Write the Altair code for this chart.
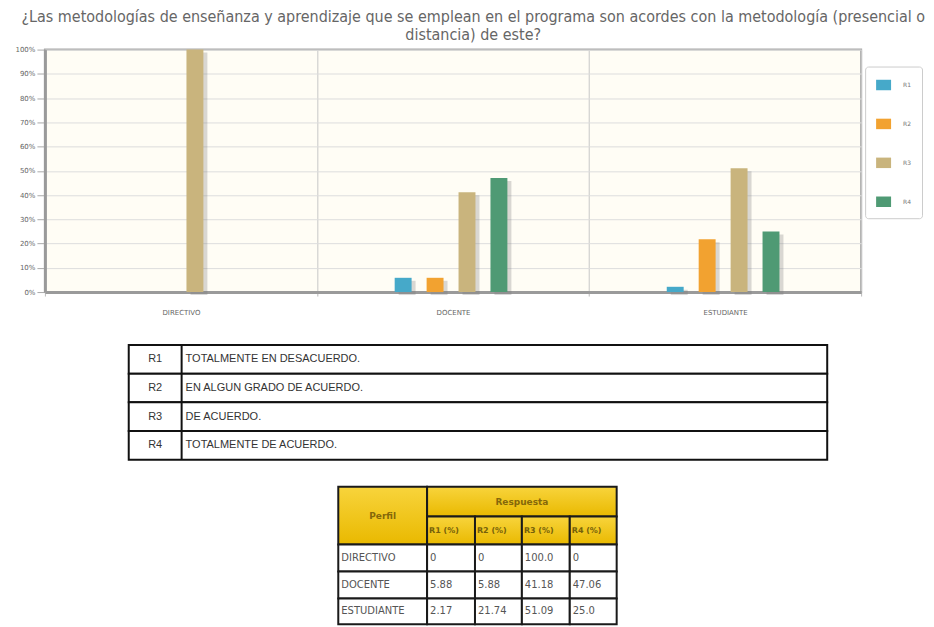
import altair as alt
import pandas as pd

# ---------------- data ----------------
title_lines = [
    "¿Las metodologías de enseñanza y aprendizaje que se emplean en el programa son acordes con la metodología (presencial o",
    "distancia) de este?",
]
profiles = ["DIRECTIVO", "DOCENTE", "ESTUDIANTE"]
responses = ["R1", "R2", "R3", "R4"]
r1_pct = [0, 5.88, 2.17]
r2_pct = [0, 5.88, 21.74]
r3_pct = [100.0, 41.18, 51.09]
r4_pct = [0, 47.06, 25.0]
response_labels = [
    "TOTALMENTE EN DESACUERDO.",
    "EN ALGUN GRADO DE ACUERDO.",
    "DE ACUERDO.",
    "TOTALMENTE DE ACUERDO.",
]
header_perfil = "Perfil"
header_respuesta = "Respuesta"
header_cols = ["R1 (%)", "R2 (%)", "R3 (%)", "R4 (%)"]
y_ticks = [0, 0.1, 0.2, 0.3, 0.4, 0.5, 0.6, 0.7, 0.8, 0.9, 1.0]

# ---------------- styles / layout ----------------
colors = ["#46a9c9", "#f2a230", "#c9b47d", "#4f9a74"]
TITLE_FONT = "DejaVu Sans Condensed, Liberation Sans Narrow, DejaVu Sans"
SMALL_FONT = "DejaVu Sans"
TABLE_FONT = "Liberation Sans"

PLOT_W, PLOT_H = 818, 243
BAND = PLOT_W / len(profiles)
BAR_STEP = 32
INNER_PAD = 0.47
GROUP_SPAN = BAR_STEP * (len(responses) - INNER_PAD)
OFF_LO = BAND / 2 - GROUP_SPAN / 2 - 2
OFF_HI = OFF_LO + GROUP_SPAN
SHADOW_DX = 4

series = [r1_pct, r2_pct, r3_pct, r4_pct]
bar_rows = []
for i, p in enumerate(profiles):
    for j, r in enumerate(responses):
        bar_rows.append({"perfil": p, "resp": r, "val": series[j][i] / 100.0})
bars_df = pd.DataFrame(bar_rows)

x_enc = alt.X(
    "perfil:N", sort=profiles,
    scale=alt.Scale(paddingInner=0, paddingOuter=0),
    axis=alt.Axis(title=None, labelAngle=0, labelFontSize=7, labelColor="#666",
                  labelFont=SMALL_FONT, tickBand="extent", grid=True,
                  gridColor="#c8c8c8", gridWidth=1, domainColor="#9a9a9a",
                  domainWidth=3, tickColor="#bbbbbb", tickSize=4, labelPadding=12),
)
y_enc = alt.Y(
    "val:Q", scale=alt.Scale(domain=[0, 1], nice=False),
    axis=alt.Axis(values=y_ticks, format=".0%", title=None, labelFontSize=7,
                  labelColor="#666", labelFont=SMALL_FONT, tickSize=8,
                  tickColor="#aaaaaa", domainColor="#9a9a9a", domainWidth=3,
                  gridColor="#dddddd", minExtent=36, maxExtent=36, labelPadding=2),
)

shadow = alt.Chart(bars_df).mark_bar(
    color="#777777", opacity=0.28, yOffset=3, y2Offset=0
).encode(
    x=x_enc,
    xOffset=alt.XOffset("resp:N", sort=responses,
                        scale=alt.Scale(paddingInner=INNER_PAD, paddingOuter=0,
                                        range=[OFF_LO + SHADOW_DX, OFF_HI + SHADOW_DX])),
    y=y_enc,
)

bars = alt.Chart(bars_df).mark_bar().encode(
    x=x_enc,
    xOffset=alt.XOffset("resp:N", sort=responses,
                        scale=alt.Scale(paddingInner=INNER_PAD, paddingOuter=0,
                                        range=[OFF_LO, OFF_HI])),
    y=y_enc,
    color=alt.Color(
        "resp:N", sort=responses,
        scale=alt.Scale(domain=responses, range=colors),
        legend=alt.Legend(title=None, orient="none", legendX=822, legendY=17,
                          symbolType="M-1,-0.7H1V0.7H-1Z", symbolSize=225,
                          symbolStrokeWidth=0, labelFontSize=6, labelColor="#777",
                          labelFont=SMALL_FONT, labelOffset=12, rowPadding=26,
                          padding=11, strokeColor="#cccccc", cornerRadius=3,
                          fillColor="white"),
    ),
)

bar_chart = alt.layer(shadow, bars).resolve_scale(xOffset="independent").properties(
    width=PLOT_W, height=PLOT_H,
    view=alt.ViewBackground(fill="#fffdf5", stroke="#a8a8a8", strokeWidth=2),
)

# ---------------- definitions table ----------------
DEF_X0, DEF_X1, DEF_SPLIT = 84, 784, 137
DEF_H = 115
def_df = pd.DataFrame({"code": responses, "label": response_labels})
def_df["x0"] = DEF_X0
def_df["x1"] = DEF_X1
def_df["xc"] = (DEF_X0 + DEF_SPLIT) / 2
def_df["xl"] = DEF_SPLIT
xs_def = alt.Scale(domain=[0, PLOT_W], nice=False, zero=False)
y_def = alt.Y("code:N", sort=responses,
              scale=alt.Scale(paddingInner=0, paddingOuter=0), axis=None)

def_rect = alt.Chart(def_df).mark_rect(fill="white", stroke="#111111", strokeWidth=2).encode(
    y=y_def, x=alt.X("x0:Q", scale=xs_def, axis=None), x2="x1:Q")
def_rule = alt.Chart(pd.DataFrame({"s": [DEF_SPLIT]})).mark_rule(
    stroke="#111111", strokeWidth=2).encode(x=alt.X("s:Q", scale=xs_def, axis=None))
def_code = alt.Chart(def_df).mark_text(font=TABLE_FONT, fontSize=11, color="#333").encode(
    y=y_def, x=alt.X("xc:Q", scale=xs_def, axis=None), text="code:N")
def_text = alt.Chart(def_df).mark_text(font=TABLE_FONT, fontSize=11, color="#333",
                                       align="left", dx=4).encode(
    y=y_def, x=alt.X("xl:Q", scale=xs_def, axis=None), text="label:N")

def_chart = alt.layer(def_rect, def_rule, def_code, def_text).properties(
    width=PLOT_W, height=DEF_H, view=alt.ViewBackground(stroke="transparent"))

# ---------------- data table ----------------
TAB_X0 = 294
col_w = [89, 48, 47, 48, 47]
row_h = [30, 28, 27, 27, 26]
cx = [TAB_X0]
for w in col_w:
    cx.append(cx[-1] + w)
ry = [0]
for h in row_h:
    ry.append(ry[-1] + h)
TH = ry[-1]

head_cells = [
    {"x0": cx[0], "x1": cx[1], "y0": ry[0], "y1": ry[2], "t": header_perfil},
    {"x0": cx[1], "x1": cx[5], "y0": ry[0], "y1": ry[1], "t": header_respuesta},
]
head_left = []
for k, h in enumerate(header_cols):
    head_left.append({"x0": cx[k + 1], "x1": cx[k + 2], "y0": ry[1], "y1": ry[2], "t": h})
body_cells = []
for i, p in enumerate(profiles):
    body_cells.append({"x0": cx[0], "x1": cx[1], "y0": ry[i + 2], "y1": ry[i + 3], "t": p})
    for j in range(4):
        v = series[j][i]
        body_cells.append({"x0": cx[j + 1], "x1": cx[j + 2], "y0": ry[i + 2], "y1": ry[i + 3], "t": str(v)})

head_df = pd.DataFrame(head_cells + head_left)
head_df["xc"] = (head_df["x0"] + head_df["x1"]) / 2
head_df["yc"] = (head_df["y0"] + head_df["y1"]) / 2
headc_df = head_df.iloc[:2]
headl_df = head_df.iloc[2:]
body_df = pd.DataFrame(body_cells)
body_df["yc"] = (body_df["y0"] + body_df["y1"]) / 2

xs_t = alt.Scale(domain=[0, PLOT_W], nice=False, zero=False)
ys_t = alt.Scale(domain=[0, TH], nice=False, zero=False, reverse=True)

gold = alt.Gradient(gradient="linear",
                    stops=[alt.GradientStop(color="#f8d43c", offset=0),
                           alt.GradientStop(color="#e9b900", offset=1)],
                    x1=0, x2=0, y1=0, y2=1)

t_head = alt.Chart(head_df).mark_rect(fill=gold, stroke="#1a1a1a", strokeWidth=2).encode(
    x=alt.X("x0:Q", scale=xs_t, axis=None), x2="x1:Q",
    y=alt.Y("y0:Q", scale=ys_t, axis=None), y2="y1:Q")
t_body = alt.Chart(body_df).mark_rect(fill="white", stroke="#1a1a1a", strokeWidth=2).encode(
    x=alt.X("x0:Q", scale=xs_t, axis=None), x2="x1:Q",
    y=alt.Y("y0:Q", scale=ys_t, axis=None), y2="y1:Q")
t_headc = alt.Chart(headc_df).mark_text(font=SMALL_FONT, fontSize=9, fontWeight="bold",
                                        color="#85680a").encode(
    x=alt.X("xc:Q", scale=xs_t, axis=None), y=alt.Y("yc:Q", scale=ys_t, axis=None), text="t:N")
t_headl = alt.Chart(headl_df).mark_text(font=SMALL_FONT, fontSize=8, fontWeight="bold",
                                        color="#75600a", align="left", dx=2).encode(
    x=alt.X("x0:Q", scale=xs_t, axis=None), y=alt.Y("yc:Q", scale=ys_t, axis=None), text="t:N")
t_bodyt = alt.Chart(body_df).mark_text(font=SMALL_FONT, fontSize=10, color="#555",
                                       align="left", dx=3).encode(
    x=alt.X("x0:Q", scale=xs_t, axis=None), y=alt.Y("yc:Q", scale=ys_t, axis=None), text="t:N")

data_chart = alt.layer(t_head, t_body, t_headc, t_headl, t_bodyt).properties(
    width=PLOT_W, height=TH, view=alt.ViewBackground(stroke="transparent"))

chart = alt.vconcat(
    bar_chart,
    alt.vconcat(def_chart, data_chart, spacing=23),
    spacing=27,
).properties(
    title=alt.TitleParams(text=title_lines, font=TITLE_FONT, fontSize=16,
                          fontWeight="normal", color="#666", anchor="middle",
                          lineHeight=18, offset=2, dx=8),
    padding={"left": 0, "top": 0, "right": 0, "bottom": 0},
)

chart.save("out.html", embed_options={"renderer": "svg", "actions": False})
